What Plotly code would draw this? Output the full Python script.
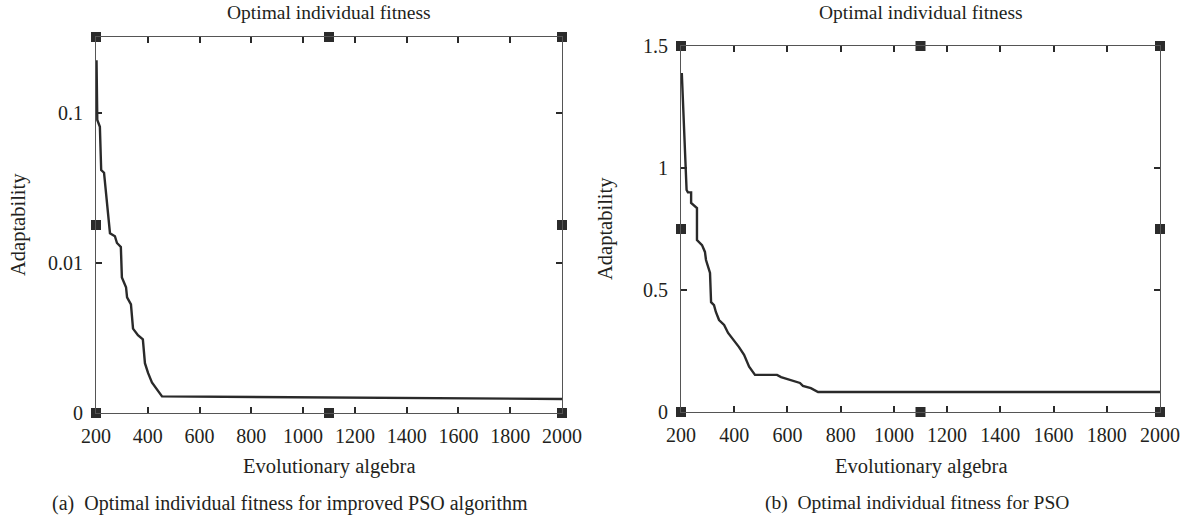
import plotly.graph_objects as go
import math

# ---- data ----
gen_a = [202, 205, 205, 215, 220, 231, 254, 273, 281, 296, 300, 316, 320, 335, 343, 362, 381, 389,
         401, 416, 428, 455, 2000]
fit_a = [0.225, 0.1, 0.0898, 0.081, 0.0417, 0.040, 0.0158, 0.0151, 0.0136, 0.0128, 0.0080, 0.0069,
         0.0059, 0.0053, 0.00365, 0.0033, 0.0031, 0.00215, 0.00185, 0.0016, 0.0015, 0.00129, 0.00124]

gen_b = [203, 221, 226, 238, 238, 260, 260, 279, 290, 294, 309, 313, 324, 331, 343, 362, 377, 392,
         407, 418, 437, 456, 478, 561, 576, 602, 621, 647, 658, 688, 715, 2000]
fit_b = [1.389, 0.91, 0.90, 0.90, 0.857, 0.836, 0.705, 0.684, 0.656, 0.623, 0.57, 0.45, 0.438, 0.41,
         0.377, 0.357, 0.324, 0.303, 0.283, 0.266, 0.234, 0.186, 0.152, 0.152, 0.143, 0.135, 0.127,
         0.119, 0.107, 0.098, 0.082, 0.082]

x_ticks = list(range(200, 2001, 200))
ya_ticks = [0.001, 0.01, 0.1]
ya_labels = ["0", "0.01", "0.1"]
yb_ticks = [0, 0.5, 1, 1.5]
yb_labels = ["0", "0.5", "1", "1.5"]

title_text = "Optimal individual fitness"
xlabel = "Evolutionary algebra"
ylabel = "Adaptability"
cap_a = "(a)  Optimal individual fitness for improved PSO algorithm"
cap_b = "(b)  Optimal individual fitness for PSO"

W, H = 1191, 520
FONT = "Liberation Serif"
TXT = "#231f20"
LINE = "#2a2a2a"

xa_range = [200, 2000]
ya_range = [-3, -0.493]  # log10
yb_range = [0, 1.5]

dom_xa = [96 / W, 562 / W]
dom_xb = [681 / W, 1160 / W]
dom_ya = [(H - 413) / H, (H - 37) / H]
dom_yb = [(H - 412) / H, (H - 46) / H]

fig = go.Figure()

fig.add_trace(go.Scatter(x=gen_a, y=fit_a, mode="lines", line=dict(color=LINE, width=2.4),
                         xaxis="x", yaxis="y", showlegend=False))
fig.add_trace(go.Scatter(x=gen_b, y=fit_b, mode="lines", line=dict(color=LINE, width=2.4),
                         xaxis="x2", yaxis="y2", showlegend=False))

# square handles at corners / midpoints
xmid = (xa_range[0] + xa_range[1]) / 2
ya_lo, ya_hi = 10 ** ya_range[0], 10 ** ya_range[1]
ya_mid = 10 ** ((ya_range[0] + ya_range[1]) / 2)
yb_mid = (yb_range[0] + yb_range[1]) / 2
sq_x = [xa_range[0], xmid, xa_range[1], xa_range[0], xa_range[1], xa_range[0], xmid, xa_range[1]]
sq_ya = [ya_lo, ya_lo, ya_lo, ya_mid, ya_mid, ya_hi, ya_hi, ya_hi]
sq_yb = [yb_range[0]] * 3 + [yb_mid] * 2 + [yb_range[1]] * 3
mk = dict(symbol="square", size=10, color="#2b2b2b")
fig.add_trace(go.Scatter(x=sq_x, y=sq_ya, mode="markers", marker=mk, cliponaxis=False,
                         xaxis="x", yaxis="y", showlegend=False))
fig.add_trace(go.Scatter(x=sq_x, y=sq_yb, mode="markers", marker=mk, cliponaxis=False,
                         xaxis="x2", yaxis="y2", showlegend=False))

tickfont = dict(family=FONT, size=20, color=TXT)
common = dict(showgrid=False, zeroline=False, showline=True, linecolor="#555", linewidth=1.2,
              mirror="ticks", ticks="inside", ticklen=6, tickwidth=2.2, tickcolor=LINE,
              tickfont=tickfont, automargin=False)

fig.update_layout(
    width=W, height=H, margin=dict(l=0, r=0, t=0, b=0, pad=0, autoexpand=False),
    paper_bgcolor="white", plot_bgcolor="white",
    xaxis=dict(domain=dom_xa, range=xa_range, tickvals=x_ticks, anchor="y",
               ticklabelstandoff=5, **common),
    yaxis=dict(domain=dom_ya, type="log", range=ya_range, tickvals=ya_ticks, ticktext=ya_labels,
               anchor="x", ticklabelstandoff=8, **common),
    xaxis2=dict(domain=dom_xb, range=xa_range, tickvals=x_ticks, anchor="y2",
                ticklabelstandoff=5, **common),
    yaxis2=dict(domain=dom_yb, range=yb_range, tickvals=yb_ticks, ticktext=yb_labels,
                anchor="x2", ticklabelstandoff=8, **common),
)

def ann(text, x, y, size, angle=0):
    fig.add_annotation(text=text, x=x, y=y, xref="paper", yref="paper", showarrow=False,
                       textangle=angle, xanchor="center", yanchor="middle",
                       font=dict(family=FONT, size=size, color=TXT))

ca = (96 + 562) / 2
cb = (681 + 1160) / 2
ann(title_text, ca / W, 1 - 12 / H, 19.5)
ann(title_text, cb / W, 1 - 12 / H, 19.5)
ann(xlabel, ca / W, 1 - 466 / H, 20.5)
ann(xlabel, cb / W, 1 - 466 / H, 20.5)
ann(ylabel, 18 / W, 1 - 225 / H, 20.5, -90)
ann(ylabel, 605 / W, 1 - 229 / H, 20.5, -90)
ann(cap_a, 290 / W, 1 - 503 / H, 20)
ann(cap_b, 917 / W, 1 - 503 / H, 19.5)

fig.write_html("out.html", config={"displayModeBar": False},
               post_script="document.body.style.margin='0';")
